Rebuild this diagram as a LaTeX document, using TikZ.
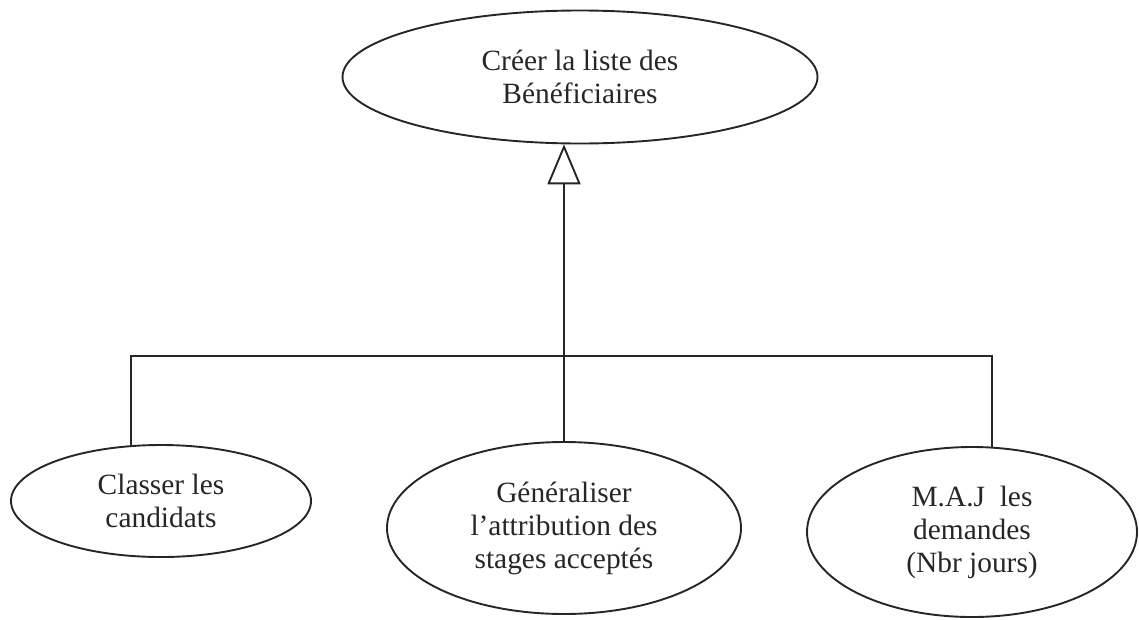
\documentclass[tikz,border=0pt]{standalone}
\usepackage{fontspec}
\setmainfont{Liberation Serif}
\usetikzlibrary{shapes.geometric,arrows.meta}

\tikzset{
  ink/.style={draw=black!85, line width=1.9pt},
  usecase/.style={ellipse, ink, inner sep=0pt, align=center,
    text=black!85, font=\fontsize{29.4}{33}\selectfont},
  link/.style={ink},
  generalise/.style={ink, -{Triangle[open, length=40pt, width=33pt, line width=1.9pt]}}
}

\begin{document}
\begin{tikzpicture}[x=1pt, y=-1pt]
  \useasboundingbox (0,0) rectangle (1139,619);

  % parent use case
  \node[usecase, minimum width=475pt, minimum height=133pt] (T) at (580,77)
    {Créer la liste des\\Bénéficiaires};

  % child use cases
  \node[usecase, minimum width=300pt, minimum height=112pt] (L) at (161,501)
    {Classer les\\candidats};
  \node[usecase, minimum width=354pt, minimum height=172pt] (M) at (564,528)
    {Généraliser\\l’attribution des\\stages acceptés};
  \node[usecase, minimum width=330pt, minimum height=170pt] (R) at (972,532)
    {M.A.J\ \ les\\demandes\\(Nbr jours)};

  % shared bus joining the children
  \coordinate (busR) at (991,356);

  \draw[link] (L.118.6) |- (busR) -| (R.77.3);
  \draw[generalise] (M.north) -- (M.north |- T.256.4);
\end{tikzpicture}
\end{document}
